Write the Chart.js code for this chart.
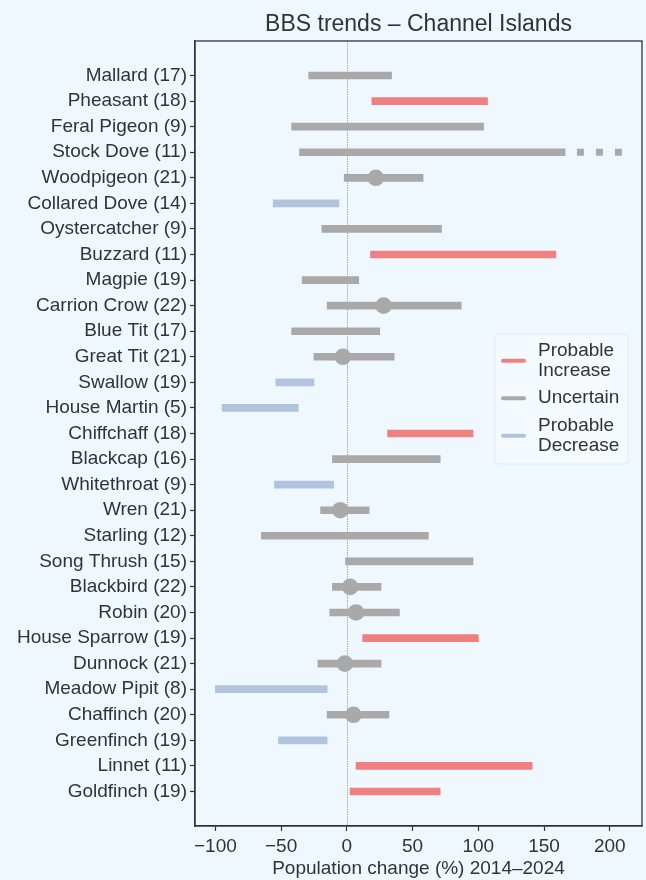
<!DOCTYPE html>
<html>
<head>
<meta charset="utf-8">
<title>BBS trends – Channel Islands</title>
<script src="https://cdn.jsdelivr.net/npm/chart.js@4.4.1/dist/chart.umd.min.js"></script>
<style>
  html, body { margin: 0; padding: 0; background: #F0F8FF; overflow: hidden; }
  #wrap { position: relative; width: 646px; height: 880px; }
</style>
</head>
<body>
<div id="wrap"><canvas id="chart"></canvas></div>
<script>
// Species surveyed and number of squares in brackets
const species = ['Mallard','Pheasant','Feral Pigeon','Stock Dove','Woodpigeon','Collared Dove',
  'Oystercatcher','Buzzard','Magpie','Carrion Crow','Blue Tit','Great Tit','Swallow','House Martin',
  'Chiffchaff','Blackcap','Whitethroat','Wren','Starling','Song Thrush','Blackbird','Robin',
  'House Sparrow','Dunnock','Meadow Pipit','Chaffinch','Greenfinch','Linnet','Goldfinch'];
const squares = [17,18,9,11,21,14,9,11,19,22,17,21,19,5,18,16,9,21,12,15,22,20,19,21,8,20,19,11,19];

// Confidence interval of population change (%) 2014–2024
const lower = [-29,19,-42,-36,-2,-56,-19,18,-34,-15,-42,-25,-54,-95,31,-11,-55,-20,-65,-1,-11,-13,12,-22,-100,-15,-52,7,2.5];
const upper = [34,107,104,166,58,-6,72,159,9,87,25,36,-25,-37,96,71,-10,17,62,96,26,40,100,26,-15,32,-15,141,71];

// Trend category: 'inc' probable increase, 'unc' uncertain, 'dec' probable decrease
const status = ['unc','inc','unc','unc','unc','dec','unc','inc','unc','unc','unc','unc','dec','dec',
  'inc','unc','dec','unc','unc','unc','unc','unc','inc','unc','dec','unc','dec','inc','inc'];

// Point estimates shown for the better-sampled species (null where not shown)
const estimate = [null,null,null,null,22,null,null,null,null,28,null,-3,null,null,
  null,null,null,-5,null,null,2.5,7,null,-1.5,null,5,null,null,null];

// Stock Dove interval runs off beyond its drawn bar
const offScaleSpecies = 'Stock Dove';
const offScaleRange = [175, 209.3];

const xTicks = [-100, -50, 0, 50, 100, 150, 200];
const legendLabels = [['Probable', 'Increase'], ['Uncertain'], ['Probable', 'Decrease']];

const colours = { inc: '#F08080', unc: '#A9A9A9', dec: '#B0C4DE' };
const legendKeys = ['inc', 'unc', 'dec'];
const FONT = "'Liberation Sans', Arial, Helvetica, sans-serif";
const INK = '#333333';

const rows = species.map((_, i) => i);
const offRow = species.indexOf(offScaleSpecies);

// Frame round the plot area plus the dotted zero reference line
const framePlugin = {
  id: 'frame',
  beforeDatasetsDraw(chart) {
    const { ctx, chartArea: a, scales } = chart;
    const x0 = scales.x.getPixelForValue(0);
    ctx.save();
    ctx.strokeStyle = '#9a9a9a';
    ctx.lineWidth = 1;
    ctx.setLineDash([1.2, 1.2]);
    ctx.beginPath();
    ctx.moveTo(Math.round(x0) + 0.5, a.top);
    ctx.lineTo(Math.round(x0) + 0.5, a.bottom);
    ctx.stroke();
    ctx.restore();
  },
  afterDraw(chart) {
    const { ctx, chartArea: a } = chart;
    ctx.save();
    ctx.strokeStyle = INK;
    ctx.lineWidth = 1.3;
    ctx.strokeRect(a.left, a.top, a.right - a.left, a.bottom - a.top);
    ctx.restore();
  }
};

// Legend with wrapped labels on the right of the plot
const legendPlugin = {
  id: 'wrapLegend',
  afterDraw(chart) {
    const { ctx, chartArea: a } = chart;
    const w = 133, h = 130;
    const left = a.right - 14 - w;
    const top = a.top + 293;
    ctx.save();
    ctx.beginPath();
    ctx.roundRect(left, top, w, h, 4);
    ctx.fillStyle = 'rgba(246,250,255,0.85)';
    ctx.fill();
    ctx.strokeStyle = '#E2E8EE';
    ctx.lineWidth = 1;
    ctx.stroke();
    ctx.font = '19px ' + FONT;
    ctx.textBaseline = 'middle';
    ctx.fillStyle = INK;
    const lineH = 20;
    let y = top + 6.7;
    legendKeys.forEach((k, idx) => {
      const lines = legendLabels[idx];
      const blockH = lines.length * lineH;
      const mid = y + blockH / 2;
      ctx.strokeStyle = colours[k];
      ctx.lineWidth = 4;
      ctx.lineCap = 'round';
      ctx.beginPath();
      ctx.moveTo(left + 8, mid);
      ctx.lineTo(left + 29, mid);
      ctx.stroke();
      lines.forEach((t, j) => {
        ctx.fillText(t, left + 43, y + lineH / 2 + j * lineH);
      });
      y += blockH + 7.5;
    });
    ctx.restore();
  }
};

new Chart(document.getElementById('chart'), {
  data: {
    datasets: [
      {
        type: 'bar',
        label: 'interval',
        data: rows.map(i => ({ y: i, x: [lower[i], upper[i]] })),
        backgroundColor: rows.map(i => colours[status[i]]),
        borderWidth: 0,
        barThickness: 7,
        grouped: false,
        order: 2
      },
      {
        type: 'line',
        label: 'off scale',
        data: offScaleRange.map(v => ({ x: v, y: offRow })),
        borderColor: colours[status[offRow]],
        borderWidth: 7,
        borderDash: [7, 12],
        borderCapStyle: 'butt',
        pointRadius: 0,
        order: 3
      },
      {
        type: 'scatter',
        label: 'estimate',
        data: rows.filter(i => estimate[i] !== null).map(i => ({ x: estimate[i], y: i })),
        backgroundColor: colours.unc,
        borderWidth: 0,
        pointRadius: 8.3,
        order: 1
      }
    ]
  },
  options: {
    indexAxis: 'y',
    responsive: true,
    maintainAspectRatio: false,
    animation: false,
    events: [],
    layout: { autoPadding: false, padding: { left: 0, right: 4, top: 0, bottom: 0 } },
    plugins: {
      legend: { display: false },
      tooltip: { enabled: false },
      title: {
        display: true,
        text: 'BBS trends – Channel Islands',
        fullSize: false,
        color: INK,
        font: { family: FONT, size: 23, weight: 'normal', lineHeight: 1.2 },
        padding: { top: 11, bottom: 2.4 }
      }
    },
    scales: {
      x: {
        type: 'linear',
        min: -115.5,
        max: 224.5,
        offset: false,
        afterBuildTicks(scale) { scale.ticks = xTicks.map(v => ({ value: v })); },
        afterFit(scale) { scale.height = 54; scale.paddingLeft = 0; scale.paddingRight = 0; },
        ticks: {
          color: INK,
          font: { family: FONT, size: 19 },
          padding: 4,
          autoSkip: false,
          maxRotation: 0,
          callback: v => String(v).replace('-', '\u2212')
        },
        grid: { offset: false, drawOnChartArea: false, drawTicks: true, tickLength: 5, color: INK, tickWidth: 1.2 },
        border: { display: true, color: INK, width: 1.3 },
        title: {
          display: true,
          text: 'Population change (%) 2014–2024',
          color: INK,
          font: { family: FONT, size: 19 },
          padding: { top: 0, bottom: 0 }
        }
      },
      y: {
        type: 'linear',
        reverse: true,
        min: -1.35,
        max: 29.35,
        offset: false,
        bounds: 'data',
        afterBuildTicks(scale) { scale.ticks = rows.map(i => ({ value: i })); },
        afterFit(scale) { scale.width = 195; },
        ticks: {
          color: INK,
          font: { family: FONT, size: 19 },
          padding: 3,
          autoSkip: false,
          callback: v => species[v] + ' (' + squares[v] + ')'
        },
        grid: { offset: false, drawOnChartArea: false, drawTicks: true, tickLength: 5, color: INK, tickWidth: 1.2 },
        border: { display: true, color: INK, width: 1.3 }
      }
    }
  },
  plugins: [framePlugin, legendPlugin]
});
</script>
</body>
</html>
